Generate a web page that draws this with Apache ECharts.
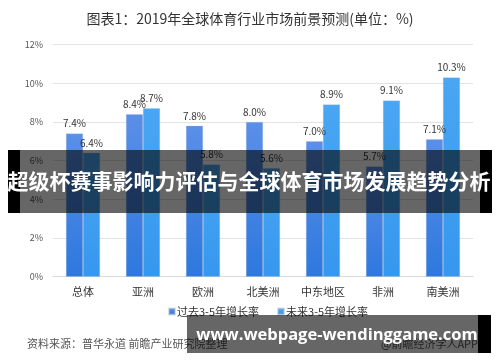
<!DOCTYPE html>
<html><head><meta charset="utf-8">
<script src="https://cdn.jsdelivr.net/npm/echarts@6/dist/echarts.min.js"></script>
<style>html,body{margin:0;padding:0;background:#fff}#c{width:500px;height:362px}</style>
</head><body><div id="c"></div>
<script>
const categories = ['总体','亚洲','欧洲','北美洲','中东地区','非洲','南美洲'];
const pastGrowth = [7.4, 8.4, 7.8, 8.0, 7.0, 5.7, 7.1];
const futureGrowth = [6.4, 8.7, 5.8, 5.6, 8.9, 9.1, 10.3];
const yTicks = [0, 2, 4, 6, 8, 10, 12];
const seriesNames = ['过去3-5年增长率','未来3-5年增长率'];

const font = '"Noto Sans CJK SC", "Noto Sans", sans-serif';
const chart = echarts.init(document.getElementById('c'), null, {renderer:'canvas'});
const grad = (a,b)=>new echarts.graphic.LinearGradient(0,0,0,1,[{offset:0,color:a},{offset:1,color:b}]);
chart.setOption({
  animation:false,
  backgroundColor:'#fff',
  textStyle:{fontFamily:font},
  title:{text:'图表1：2019年全球体育行业市场前景预测(单位：%)',left:'center',top:7,
    textStyle:{fontSize:14,fontWeight:'normal',color:'#333',fontFamily:font}},
  grid:{left:53,right:27,top:44.5,bottom:85.3,containLabel:false},
  legend:{bottom:40,left:163,itemWidth:6,itemHeight:6,itemGap:18,icon:'rect',
    textStyle:{fontSize:11,color:'#333',padding:[0,0,0,-3]},data:seriesNames},
  xAxis:{type:'category',data:categories,axisTick:{show:false},
    axisLine:{lineStyle:{color:'#d9d9d9'}},
    axisLabel:{fontSize:11,color:'#333',margin:10}},
  yAxis:{type:'value',min:yTicks[0],max:yTicks[yTicks.length-1],interval:2,
    axisLine:{show:false},axisTick:{show:false},
    splitLine:{lineStyle:{color:'#e3e3e3'}},
    axisLabel:{fontSize:9,color:'#555',margin:10,formatter:v=>v+'%'}},
  series:[
    {name:seriesNames[0],type:'bar',data:pastGrowth,barWidth:17,barGap:'0%',
     itemStyle:{color:grad('#5b8fe8','#2d78de'),borderColor:'rgba(180,190,200,0.5)',borderWidth:0.5},
     label:{show:true,position:'top',distance:5,fontSize:10,color:'#333',formatter:p=>p.value.toFixed(1)+'%'}},
    {name:seriesNames[1],type:'bar',data:futureGrowth,barWidth:17,
     itemStyle:{color:grad('#4aa6f3','#3597ee'),borderColor:'rgba(180,190,200,0.5)',borderWidth:0.5},
     label:{show:true,position:'top',distance:5,fontSize:10,color:'#333',formatter:p=>p.value.toFixed(1)+'%'}}
  ],
  graphic:[
    {type:'text',z:100,left:27,top:338,style:{text:'资料来源：普华永道 前瞻产业研究院整理',fill:'#555',font:'11px '+font}},
    {type:'text',z:100,right:22,top:338,style:{text:'@前瞻经济学人APP',fill:'#555',font:'11px '+font}},
    {type:'rect',z:200,shape:{x:20,y:150,width:460,height:63},style:{fill:'rgba(0,0,0,0.6)'}},
    {type:'rect',z:200,shape:{x:8,y:150,width:12,height:63},style:{fill:'#000'}},
    {type:'rect',z:200,shape:{x:480,y:150,width:12,height:63},style:{fill:'#000'}},
    {type:'text',z:210,x:249,y:181,style:{text:'超级杯赛事影响力评估与全球体育市场发展趋势分析',fill:'#fff',
      font:'bold 21px '+font,textAlign:'center',textVerticalAlign:'middle'}},
    {type:'rect',z:200,shape:{x:187,y:315,width:291,height:38},style:{fill:'rgba(0,0,0,0.6)'}},
    {type:'rect',z:200,shape:{x:478,y:315,width:13,height:38},style:{fill:'#000'}},
    {type:'text',z:210,x:337,y:335,style:{text:'www.webpage-wendinggame.com',fill:'#fff',
      font:'bold 16.5px "Open Sans", "Noto Sans", sans-serif',textAlign:'center',textVerticalAlign:'middle'}}
  ]
});
</script></body></html>
